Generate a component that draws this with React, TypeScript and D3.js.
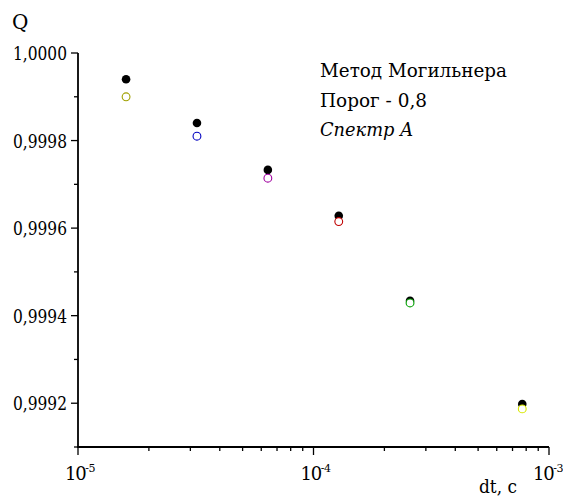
import React, { useEffect, useRef } from 'react';
import * as d3 from 'd3';

// dt, s
const dtValues = [1.6e-5, 3.2e-5, 6.4e-5, 1.28e-4, 2.57e-4, 7.7e-4];
// filled black points
const qFilled = [0.99994, 0.99984, 0.999733, 0.999628, 0.999434, 0.999198];
// open points, one colour each
const qOpen = [0.9999, 0.99981, 0.999714, 0.999615, 0.999429, 0.999187];
const openColors = ['#a0a000', '#0000c0', '#a000a0', '#c00000', '#00a000', '#d8e800'];

const yMajor = [0.9992, 0.9994, 0.9996, 0.9998, 1.0];
const yMinor = [0.9991, 0.9993, 0.9995, 0.9997, 0.9999];
const xMajorExp = [-5, -4, -3];

const legendLines = ['Метод Могильнера', 'Порог - 0,8', 'Спектр A'];

const W = 563;
const H = 497;
const FONT = "'DejaVu Serif', serif";

const App = () => {
  const ref = useRef<SVGSVGElement>(null);

  useEffect(() => {
    const svg = d3.select(ref.current);
    svg.selectAll('*').remove();

    const x = d3.scaleLog().domain([1e-5, 1e-3]).range([78, 549]);
    const y = d3.scaleLinear().domain([0.9991, 1.0]).range([447, 53]);

    const g = svg.append('g').style('font-family', FONT);

    // axis lines
    g.append('line')
      .attr('x1', x(1e-5)).attr('x2', x(1e-5))
      .attr('y1', y(1.0)).attr('y2', y(0.9991))
      .attr('stroke', '#000').attr('stroke-width', 1.8);
    g.append('line')
      .attr('x1', x(1e-5) - 1).attr('x2', x(1e-3))
      .attr('y1', y(0.9991)).attr('y2', y(0.9991))
      .attr('stroke', '#000').attr('stroke-width', 1.8);

    // y ticks
    g.selectAll('.ymaj').data(yMajor).enter().append('line')
      .attr('x1', 71).attr('x2', x(1e-5))
      .attr('y1', d => y(d)).attr('y2', d => y(d))
      .attr('stroke', '#000').attr('stroke-width', 1.3);
    g.selectAll('.ymin').data(yMinor).enter().append('line')
      .attr('x1', 74).attr('x2', x(1e-5))
      .attr('y1', d => y(d)).attr('y2', d => y(d))
      .attr('stroke', '#000').attr('stroke-width', 1.3);
    g.selectAll('.ylab').data(yMajor).enter().append('text')
      .attr('x', 13).attr('y', d => y(d) + 7)
      .attr('font-size', 19)
      .attr('textLength', 54).attr('lengthAdjust', 'spacingAndGlyphs')
      .text(d => d3.format('.4f')(d).replace('.', ','));

    // x ticks
    const minor: number[] = [];
    for (let e = -5; e < -3; e++) {
      for (let k = 2; k <= 9; k++) minor.push(k * Math.pow(10, e));
    }
    const base = y(0.9991);
    g.selectAll('.xmaj').data(xMajorExp).enter().append('line')
      .attr('x1', d => x(Math.pow(10, d))).attr('x2', d => x(Math.pow(10, d)))
      .attr('y1', base).attr('y2', base + 8)
      .attr('stroke', '#000').attr('stroke-width', 1.3);
    g.selectAll('.xmin').data(minor).enter().append('line')
      .attr('x1', d => x(d)).attr('x2', d => x(d))
      .attr('y1', base).attr('y2', base + 4)
      .attr('stroke', '#000').attr('stroke-width', 1.3);
    const labX = (d: number) => Math.min(x(Math.pow(10, d)) - 13, 533);
    const xl = g.selectAll('.xlab').data(xMajorExp).enter().append('text')
      .attr('x', labX).attr('y', 480)
      .attr('font-size', 18)
      .attr('letter-spacing', -1.3);
    xl.append('tspan').text('10');
    xl.append('tspan').attr('dy', -8).attr('font-size', 11)
      .attr('letter-spacing', -0.5).text(d => String(d));

    // axis titles
    g.append('text').attr('x', 12).attr('y', 29)
      .attr('font-size', 20).text('Q');
    g.append('text').attr('x', 479).attr('y', 493)
      .attr('font-size', 19)
      .attr('textLength', 38).attr('lengthAdjust', 'spacingAndGlyphs').text('dt, c');

    // legend text
    const legendWidths = [187, 107, 93];
    g.selectAll('.leg').data(legendLines).enter().append('text')
      .attr('x', 320).attr('y', (d, i) => 77 + i * 29.5)
      .attr('font-size', 19)
      .attr('textLength', (d, i) => legendWidths[i]).attr('lengthAdjust', 'spacingAndGlyphs')
      .attr('font-style', (d, i) => (i === 2 ? 'italic' : 'normal'))
      .text(d => d);

    // points
    g.selectAll('.filled').data(dtValues).enter().append('circle')
      .attr('cx', d => x(d)).attr('cy', (d, i) => y(qFilled[i]))
      .attr('r', 4.3).attr('fill', '#000');
    g.selectAll('.open').data(dtValues).enter().append('circle')
      .attr('cx', d => x(d)).attr('cy', (d, i) => y(qOpen[i]))
      .attr('r', 3.9).attr('fill', '#fff')
      .attr('stroke', (d, i) => openColors[i]).attr('stroke-width', 1.1);
  }, []);

  return (
    <svg
      ref={ref}
      width={W}
      height={H}
      style={{ position: 'absolute', left: 0, top: 0, background: '#fff' }}
    />
  );
};

export default App;
